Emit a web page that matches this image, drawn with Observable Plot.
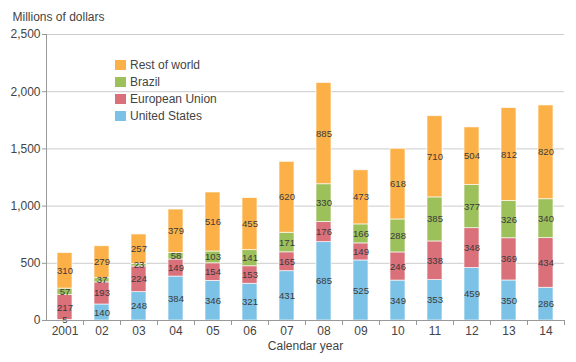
<!DOCTYPE html>
<html>
<head>
<meta charset="utf-8">
<script src="https://cdn.jsdelivr.net/npm/d3@7"></script>
<script src="https://cdn.jsdelivr.net/npm/@observablehq/plot@0.6"></script>
<style>
  html, body { margin: 0; padding: 0; background: #fff; }
  #wrap { position: relative; width: 576px; height: 362px; font-family: "Liberation Sans", Arial, sans-serif; }
  #legend { position: absolute; left: 115px; top: 56.5px; font-size: 12px; color: #444; }
  .row { display: flex; align-items: center; height: 17px; }
  .sw { width: 10.5px; height: 9.5px; margin-right: 4.5px; }
</style>
</head>
<body>
<div id="wrap"></div>
<script>
const years = ["2001","02","03","04","05","06","07","08","09","10","11","12","13","14"];
const unitedStates  = [5,140,248,384,346,321,431,685,525,349,353,459,350,286];
const europeanUnion = [217,193,224,149,154,153,165,176,149,246,338,348,369,434];
const brazil        = [57,37,23,58,103,141,171,330,166,288,385,377,326,340];
const restOfWorld   = [310,279,257,379,516,455,620,885,473,618,710,504,812,820];
const seriesNames = ["United States","European Union","Brazil","Rest of world"];
const seriesColors = ["#7cc1e6","#d9707a","#9cc05a","#fbb148"];
const yTicks = [0,500,1000,1500,2000,2500];
const legendOrder = ["Rest of world","Brazil","European Union","United States"];

const seriesValues = [unitedStates, europeanUnion, brazil, restOfWorld];
const data = [];
seriesNames.forEach((s, si) => {
  years.forEach((y, i) => data.push({year: y, series: s, value: seriesValues[si][i]}));
});

const chart = Plot.plot({
  width: 576,
  height: 362,
  marginLeft: 46,
  marginRight: 12,
  marginTop: 34,
  marginBottom: 42,
  style: {fontFamily: "'Liberation Sans', Arial, sans-serif", fontSize: "12px", color: "#444", background: "#fff"},
  x: {domain: years, paddingInner: 0.6, paddingOuter: 0.3, label: null},
  y: {domain: [0, 2500], label: null},
  color: {domain: seriesNames, range: seriesColors},
  marks: [
    Plot.ruleY(yTicks.slice(1), {stroke: "#cccccc", strokeWidth: 1}),
    Plot.barY(data, {x: "year", y: "value", fill: "series", stroke: "#ffffff", strokeWidth: 0.8, strokeOpacity: 0.8}),
    Plot.text(data, Plot.stackY({x: "year", y: "value", z: "series", text: d => String(d.value), fill: "#3a3a3a", fontSize: 9.5})),
    Plot.ruleY([0], {stroke: "#999"}),
    Plot.frame({anchor: "left", stroke: "#999"}),
    Plot.axisY({ticks: yTicks, tickSize: 4, tickPadding: 2, tickFormat: d3.format(","), label: null, stroke: "#999", fill: "#444", fontSize: 12}),
    Plot.axisX({tickSize: 0, tickPadding: 6, label: null, fill: "#444", fontSize: 12}),
    Plot.axisX({tickSize: 5, text: null, label: null, dx: 18.5, stroke: "#999"}),
    Plot.text(["Millions of dollars"], {frameAnchor: "top-left", dx: -34, dy: -17, textAnchor: "start", lineAnchor: "middle", fontSize: 12, fill: "#444"}),
    Plot.text(["Calendar year"], {frameAnchor: "bottom", dy: 26, lineAnchor: "middle", fontSize: 12, fill: "#444"})
  ]
});
const wrap = document.getElementById("wrap");
wrap.appendChild(chart);

const legend = document.createElement("div");
legend.id = "legend";
legendOrder.forEach(name => {
  const row = document.createElement("div");
  row.className = "row";
  const sw = document.createElement("div");
  sw.className = "sw";
  sw.style.background = seriesColors[seriesNames.indexOf(name)];
  const t = document.createElement("span");
  t.textContent = name;
  row.appendChild(sw);
  row.appendChild(t);
  legend.appendChild(row);
});
wrap.appendChild(legend);
</script>
</body>
</html>
